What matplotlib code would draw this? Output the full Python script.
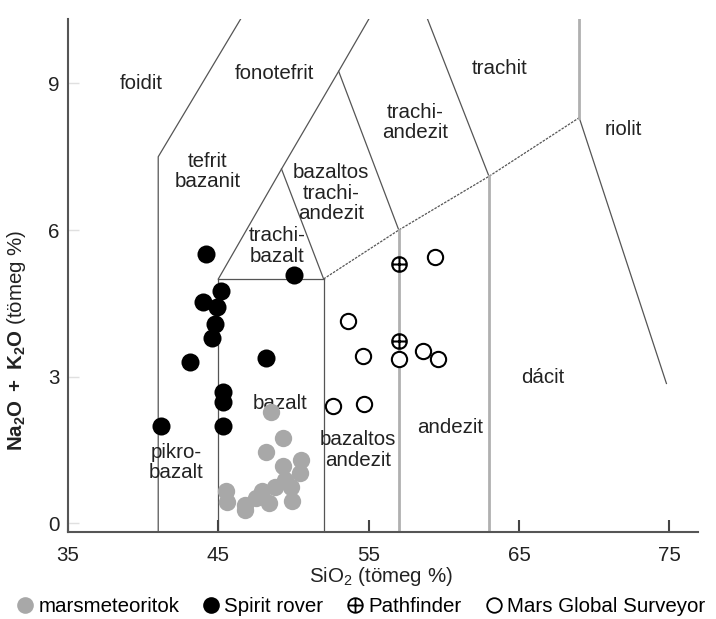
import matplotlib
matplotlib.use("Agg")
import matplotlib.pyplot as plt
from matplotlib.path import Path
from matplotlib.lines import Line2D

plt.rcParams['font.family'] = ['Liberation Sans', 'DejaVu Sans']
plt.rcParams['mathtext.fontset'] = 'custom'
plt.rcParams['mathtext.rm'] = 'Liberation Sans'
plt.rcParams['mathtext.it'] = 'Liberation Sans:italic'
plt.rcParams['mathtext.bf'] = 'Liberation Sans:bold'

# --- mérési adatok (SiO2, Na2O+K2O, tömeg %) ---
meteorit_sio2 = [48.5, 49.3, 48.2, 50.5, 49.3, 50.4, 49.4, 48.8, 47.9, 45.5,
                 45.6, 46.8, 48.4, 49.9, 47.5, 49.8, 46.8]
meteorit_alk = [2.28, 1.74, 1.46, 1.29, 1.18, 1.02, 0.89, 0.75, 0.65, 0.65,
                0.44, 0.37, 0.41, 0.46, 0.51, 0.75, 0.27]

spirit_sio2 = [44.2, 50.0, 45.2, 44.0, 44.9, 44.8, 44.6, 43.1, 48.2, 45.3,
               45.3, 41.2, 45.3]
spirit_alk = [5.52, 5.08, 4.75, 4.53, 4.42, 4.07, 3.80, 3.29, 3.39, 2.68,
              2.49, 1.98, 1.98]

pathfinder_sio2 = [57.0, 57.0]
pathfinder_alk = [5.30, 3.73]

mgs_sio2 = [59.4, 53.6, 54.6, 57.0, 58.6, 59.6, 52.6, 54.7]
mgs_alk = [5.45, 4.14, 3.42, 3.37, 3.53, 3.37, 2.40, 2.45]

# --- TAS mezőhatárok ---
ALJ = -0.18  # a tengely alja
hatar_sotet = [
    ([41, 41, 48.0], [ALJ, 7.5, 11.1]),
    ([45, 45], [ALJ, 5.0]),
    ([52, 52], [ALJ, 5.0]),
    ([45, 52], [5.0, 5.0]),
    ([45, 49.2, 53.0, 57.6], [5.0, 7.25, 9.25, 11.7]),
    ([49.2, 52], [7.25, 5.0]),
    ([53.0, 57], [9.25, 6.0]),
    ([63, 58.3], [7.1, 10.8]),
    ([69, 74.8], [8.3, 2.86]),
]
hatar_pontozott = ([52, 57, 63, 69], [5.0, 6.0, 7.1, 8.3])
hatar_vilagos = [
    ([57, 57], [ALJ, 6.0]),
    ([63, 63], [ALJ, 7.1]),
    ([69, 69], [8.3, 11.0]),
]

mezo_nevek = ["foidit", "fonotefrit", "tefrit\nbazanit", "trachi-\nbazalt",
              "bazaltos\ntrachi-\nandezit", "trachi-\nandezit", "trachit",
              "riolit", "bazalt", "pikro-\nbazalt", "bazaltos\nandezit",
              "andezit", "dácit"]
mezo_x = [39.9, 48.7, 44.3, 48.9, 52.5, 58.1, 63.7, 71.9, 49.1, 42.2, 54.3,
          60.4, 66.6]
mezo_y = [9.0, 9.2, 7.2, 5.67, 6.75, 8.2, 9.3, 8.05, 2.45, 1.24, 1.5, 1.96,
          2.99]

BETU = 14.8

# körbe írt kereszt (Pathfinder)
kor = Path.unit_circle()
kereszt = Path([(-1, 0), (1, 0), (0, -1), (0, 1)],
               [Path.MOVETO, Path.LINETO, Path.MOVETO, Path.LINETO])
oplus = Path.make_compound_path(kor, kereszt)

fig = plt.figure(figsize=(7.16, 6.19), dpi=100)
ax = fig.add_axes([68 / 716, 87 / 619, 630 / 716, 513 / 619])

for xs, ys in hatar_sotet:
    ax.plot(xs, ys, color="#555555", lw=0.9, zorder=1)
ax.plot(*hatar_pontozott, color="#555555", lw=0.9, ls=(0, (2, 1)), zorder=1)
for xs, ys in hatar_vilagos:
    ax.plot(xs, ys, color="#b0b0b0", lw=2.0, zorder=1)

for nev, x, y in zip(mezo_nevek, mezo_x, mezo_y):
    ax.text(x, y, nev, ha="center", va="center", fontsize=BETU,
            color="#222222", linespacing=1.1, zorder=2)

ax.plot(meteorit_sio2, meteorit_alk, "o", ms=12.5, color="#a8a8a8",
        mec="none", zorder=3)
ax.plot(spirit_sio2, spirit_alk, "o", ms=13, color="black", mec="none",
        zorder=4)
ax.plot(mgs_sio2, mgs_alk, "o", ms=11, mfc="white", mec="black", mew=1.5,
        zorder=4)
ax.plot(pathfinder_sio2, pathfinder_alk, ls="none", marker=oplus, ms=10.5,
        mfc="white", mec="black", mew=1.5, zorder=5)

ax.set_xlim(35, 76.9)
ax.set_ylim(ALJ, 10.32)
ax.set_xticks([35, 45, 55, 65, 75])
ax.set_yticks([0, 3, 6, 9])
ax.tick_params(axis="x", direction="in", length=9, width=1.5,
               color="#444444", pad=10, labelsize=BETU, labelcolor="#222222")
ax.tick_params(axis="y", direction="in", length=8, width=1,
               color="#e0e0e0", pad=6, labelsize=BETU, labelcolor="#222222")
for s in ("top", "right"):
    ax.spines[s].set_visible(False)
for s in ("left", "bottom"):
    ax.spines[s].set_color("#555555")
    ax.spines[s].set_linewidth(1.5)

fig.text(381 / 716, 1 - 577 / 619, "SiO$_2$ (tömeg %)", ha="center",
         va="center", fontsize=BETU, color="#222222")
fig.text(17 / 716, 1 - 340 / 619, r"$\mathbf{Na_2O\ +\ K_2O}$ (tömeg %)",
         rotation=90, ha="center", va="center", fontsize=BETU,
         color="#222222")

kezelok = [
    Line2D([], [], ls="none", marker="o", ms=12, color="#a8a8a8", mec="none"),
    Line2D([], [], ls="none", marker="o", ms=12, color="black", mec="none"),
    Line2D([], [], ls="none", marker=oplus, ms=10.5, mfc="white",
           mec="black", mew=1.3),
    Line2D([], [], ls="none", marker="o", ms=10.5, mfc="white", mec="black",
           mew=1.3),
]
fig.legend(kezelok, ["marsmeteoritok", "Spirit rover", "Pathfinder",
                     "Mars Global Surveyor"],
           loc="center", bbox_to_anchor=(0.505, 1 - 607 / 619), ncol=4,
           frameon=False, fontsize=BETU, handlelength=0.7, handletextpad=0.3,
           columnspacing=1.2, borderaxespad=0, borderpad=0)

fig.savefig("out.png", dpi=100)
